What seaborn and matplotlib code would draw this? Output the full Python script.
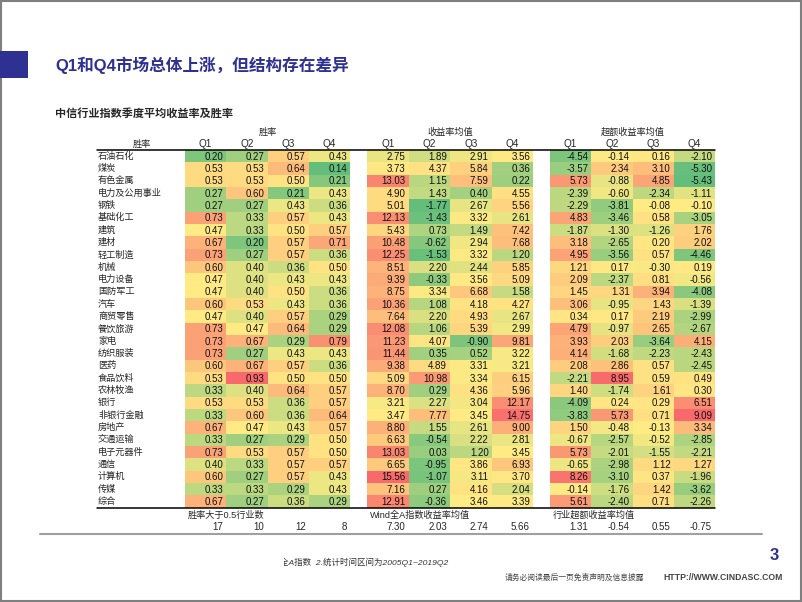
import numpy as np
import matplotlib
matplotlib.use("Agg")
import matplotlib.pyplot as plt
from matplotlib.colors import LinearSegmentedColormap, TwoSlopeNorm
from matplotlib.patches import Rectangle
import seaborn as sns

# ---- data ----
industries = [
    "石油石化", "煤炭", "有色金属", "电力及公用事业", "钢铁", "基础化工", "建筑", "建材",
    "轻工制造", "机械", "电力设备", "国防军工", "汽车", "商贸零售", "餐饮旅游", "家电",
    "纺织服装", "医药", "食品饮料", "农林牧渔", "银行", "非银行金融", "房地产", "交通运输",
    "电子元器件", "通信", "计算机", "传媒", "综合",
]
quarters = ["Q1", "Q2", "Q3", "Q4"]

win_rate = [
    [0.20, 0.27, 0.57, 0.43], [0.53, 0.53, 0.64, 0.14], [0.53, 0.53, 0.50, 0.21],
    [0.27, 0.60, 0.21, 0.43], [0.27, 0.27, 0.43, 0.36], [0.73, 0.33, 0.57, 0.43],
    [0.47, 0.33, 0.50, 0.57], [0.67, 0.20, 0.57, 0.71], [0.73, 0.27, 0.57, 0.36],
    [0.60, 0.40, 0.36, 0.50], [0.47, 0.40, 0.43, 0.43], [0.47, 0.40, 0.50, 0.36],
    [0.60, 0.53, 0.43, 0.36], [0.47, 0.40, 0.57, 0.29], [0.73, 0.47, 0.64, 0.29],
    [0.73, 0.67, 0.29, 0.79], [0.73, 0.27, 0.43, 0.43], [0.60, 0.67, 0.57, 0.36],
    [0.53, 0.93, 0.50, 0.50], [0.33, 0.40, 0.64, 0.57], [0.53, 0.53, 0.36, 0.57],
    [0.33, 0.60, 0.36, 0.64], [0.67, 0.47, 0.43, 0.57], [0.33, 0.27, 0.29, 0.50],
    [0.73, 0.53, 0.57, 0.50], [0.40, 0.33, 0.57, 0.57], [0.60, 0.27, 0.57, 0.43],
    [0.33, 0.33, 0.29, 0.43], [0.67, 0.27, 0.36, 0.29],
]

mean_return = [
    [2.75, 1.89, 2.91, 3.56], [3.73, 4.37, 5.84, 0.36], [13.03, 1.15, 7.59, 0.22],
    [4.90, 1.43, 0.40, 4.55], [5.01, -1.77, 2.67, 5.56], [12.13, -1.43, 3.32, 2.61],
    [5.43, 0.73, 1.49, 7.42], [10.48, -0.62, 2.94, 7.68], [12.25, -1.53, 3.32, 1.20],
    [8.51, 2.20, 2.44, 5.85], [9.39, -0.33, 3.56, 5.09], [8.75, 3.34, 6.68, 1.58],
    [10.36, 1.08, 4.18, 4.27], [7.64, 2.20, 4.93, 2.67], [12.08, 1.06, 5.39, 2.99],
    [11.23, 4.07, -0.90, 9.81], [11.44, 0.35, 0.52, 3.22], [9.38, 4.89, 3.31, 3.21],
    [5.09, 10.98, 3.34, 6.15], [8.70, 0.29, 4.36, 5.96], [3.21, 2.27, 3.04, 12.17],
    [3.47, 7.77, 3.45, 14.75], [8.80, 1.55, 2.61, 9.00], [6.63, -0.54, 2.22, 2.81],
    [13.03, 0.03, 1.20, 3.45], [6.65, -0.95, 3.86, 6.93], [15.56, -1.07, 3.11, 3.70],
    [7.16, 0.27, 4.16, 2.04], [12.91, -0.36, 3.46, 3.39],
]

excess_return = [
    [-4.54, -0.14, 0.16, -2.10], [-3.57, 2.34, 3.10, -5.30], [5.73, -0.88, 4.85, -5.43],
    [-2.39, -0.60, -2.34, -1.11], [-2.29, -3.81, -0.08, -0.10], [4.83, -3.46, 0.58, -3.05],
    [-1.87, -1.30, -1.26, 1.76], [3.18, -2.65, 0.20, 2.02], [4.95, -3.56, 0.57, -4.46],
    [1.21, 0.17, -0.30, 0.19], [2.09, -2.37, 0.81, -0.56], [1.45, 1.31, 3.94, -4.08],
    [3.06, -0.95, 1.43, -1.39], [0.34, 0.17, 2.19, -2.99], [4.79, -0.97, 2.65, -2.67],
    [3.93, 2.03, -3.64, 4.15], [4.14, -1.68, -2.23, -2.43], [2.08, 2.86, 0.57, -2.45],
    [-2.21, 8.95, 0.59, 0.49], [1.40, -1.74, 1.61, 0.30], [-4.09, 0.24, 0.29, 6.51],
    [-3.83, 5.73, 0.71, 9.09], [1.50, -0.48, -0.13, 3.34], [-0.67, -2.57, -0.52, -2.85],
    [5.73, -2.01, -1.55, -2.21], [-0.65, -2.98, 1.12, 1.27], [8.26, -3.10, 0.37, -1.96],
    [-0.14, -1.76, 1.42, -3.62], [5.61, -2.40, 0.71, -2.26],
]

win_count = [17, 10, 12, 8]
wind_avg = [7.30, 2.03, 2.74, 5.66]
excess_avg = [1.31, -0.54, 0.55, -0.75]

# ---- style ----
sns.set_style("white")
plt.rcParams["font.family"] = ["Liberation Sans", "Noto Sans CJK SC", "DejaVu Sans"]

W, H = 802, 602
fig = plt.figure(figsize=(W / 100, H / 100), dpi=100)
fig.patch.set_facecolor("white")

cmap = LinearSegmentedColormap.from_list("excel3", ["#63BE7B", "#FFEB84", "#F8696B"])
NAVY = "#2E3192"
LABEL_FS = 6.6

top, bottom = 150, 507.5
row_h = (bottom - top) / len(industries)


def px_axes(x0, y0, x1, y1):
    return fig.add_axes([x0 / W, 1 - y1 / H, (x1 - x0) / W, (y1 - y0) / H])


def draw_block(values, x0, x1, title, foot_label, foot_vals, fmt):
    arr = np.array(values)
    ax = px_axes(x0, top, x1, bottom)
    # Excel style 3-colour scale: min / 50th percentile / max over the block
    norm = TwoSlopeNorm(vmin=arr.min(), vcenter=np.percentile(arr, 50), vmax=arr.max())
    sns.heatmap(arr, ax=ax, cmap=cmap, norm=norm, cbar=False,
                xticklabels=False, yticklabels=False, linewidths=0)
    for i in range(arr.shape[0]):
        for j in range(arr.shape[1]):
            ax.text(j + 0.93, i + 0.55, f"{arr[i, j]:.2f}", ha="right", va="center",
                    fontsize=7, color="#111111")
    cw = (x1 - x0) / 4
    ov.text((x0 + x1) / 2, 132, title, ha="center", va="center", fontsize=LABEL_FS)
    for j, q in enumerate(quarters):
        ov.text(x0 + cw * (j + 0.5), 144, q, ha="center", va="center", fontsize=7.2)
        ov.text(x0 + cw * (j + 1) - 3, 527, fmt(foot_vals[j]), ha="right", va="center",
                fontsize=7)
    ov.text(x0 + 3, 515, foot_label, ha="left", va="center", fontsize=LABEL_FS)


# overlay for text and rules, in pixel coordinates
ov = fig.add_axes([0, 0, 1, 1])
ov.set_xlim(0, W)
ov.set_ylim(H, 0)
ov.axis("off")
ov.set_zorder(5)

ov.add_patch(Rectangle((0.7, 0.7), W - 1.4, H - 1.4, fill=False, edgecolor="#7f7f7f", lw=1.5))
ov.add_patch(Rectangle((0, 51), 28, 27, color=NAVY, lw=0))
ov.text(55, 65, "Q1和Q4市场总体上涨，但结构存在差异", fontsize=12, fontweight="bold",
        color=NAVY, ha="left", va="center")
ov.text(55, 113, "中信行业指数季度平均收益率及胜率", fontsize=8, fontweight="bold",
        ha="left", va="center")

ov.text(142, 144, "胜率", ha="center", va="center", fontsize=LABEL_FS)
for i, name in enumerate(industries):
    ov.text(98, top + row_h * (i + 0.5), name, ha="left", va="center", fontsize=LABEL_FS)

draw_block(win_rate, 185, 350, "胜率", "胜率大于0.5行业数", win_count, lambda v: f"{v:d}")
draw_block(mean_return, 367, 533, "收益率均值", "Wind全A指数收益率均值", wind_avg, lambda v: f"{v:.2f}")
draw_block(excess_return, 550, 715, "超额收益率均值", "行业超额收益率均值", excess_avg, lambda v: f"{v:.2f}")

ov.plot([97, 715], [149.5, 149.5], color="black", lw=1.1)
ov.plot([97, 715], [508, 508], color="black", lw=1.1)
ov.plot([40, 762], [534, 534], color="#a0a0a0", lw=1.5)

# footnote, cut at its left edge as on the slide
clip_ax = px_axes(284, 540, 802, 590)
clip_ax.set_xlim(284, 802)
clip_ax.set_ylim(590, 540)
clip_ax.axis("off")
clip_ax.text(280, 562, "全A指数  2.统计时间区间为2005Q1~2019Q2", fontsize=6.1, style="italic",
             color="#333333", ha="left", va="center", clip_on=True)

ov.text(774, 556, "3", fontsize=12, fontweight="bold", color=NAVY, ha="center", va="center")
ov.text(505, 578, "请务必阅读最后一页免责声明及信息披露", fontsize=5.6, color="#444444",
        ha="left", va="center")
ov.text(663, 578, "HTTP://WWW.CINDASC.COM", fontsize=6.2, fontweight="bold", color="#444444",
        ha="left", va="center")

fig.savefig("out.png", dpi=100, facecolor="white")
